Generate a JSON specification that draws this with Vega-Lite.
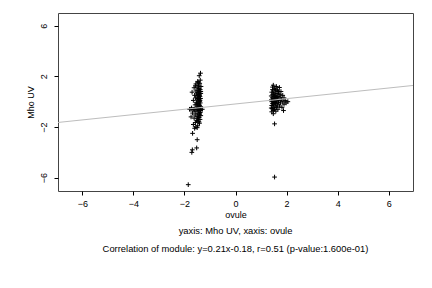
{
  "$schema": "https://vega.github.io/schema/vega-lite/v6.json",
  "autosize": "none",
  "width": 355,
  "height": 178,
  "padding": {"left": 58, "top": 13, "right": 19, "bottom": 97},
  "background": "white",
  "config": {
    "font": "Liberation Sans",
    "view": {"stroke": "#444", "strokeWidth": 1},
    "axis": {"grid": false, "domain": false, "tickColor": "#000", "tickSize": 4, "labelFontSize": 9, "titleFontSize": 9, "titleFontWeight": "normal", "labelColor": "#000", "titleColor": "#000", "labelFont": "Liberation Sans", "titleFont": "Liberation Sans", "labelOverlap": false, "labelFlush": false, "labelSeparation": -30, "labelBound": false}
  },
  "title": {
    "text": ["yaxis: Mho UV, xaxis: ovule", "Correlation of module: y=0.21x-0.18, r=0.51 (p-value:1.600e-01)"],
    "orient": "bottom",
    "anchor": "middle",
    "fontSize": 9.4,
    "fontWeight": "normal",
    "font": "Liberation Sans",
    "color": "#000",
    "lineHeight": 18,
    "offset": 8
  },
  "datasets": {
    "pts": [
      {"x": -1.37, "y": 2.25}, {"x": -1.42, "y": 2.05}, {"x": -1.48, "y": 1.6}, {"x": -1.38, "y": 1.7}, {"x": -1.55, "y": 1.4}, {"x": -1.40, "y": 1.45}, {"x": -1.45, "y": 1.3}, {"x": -1.35, "y": 1.2}, {"x": -1.62, "y": 1.1}, {"x": -1.50, "y": 1.15}, {"x": -1.43, "y": 1.05}, {"x": -1.38, "y": 0.95}, {"x": -1.47, "y": 0.9}, {"x": -1.55, "y": 0.85}, {"x": -1.40, "y": 0.8}, {"x": -1.70, "y": 0.75}, {"x": -1.45, "y": 0.7}, {"x": -1.36, "y": 0.65}, {"x": -1.52, "y": 0.6}, {"x": -1.42, "y": 0.55}, {"x": -1.60, "y": 0.5}, {"x": -1.48, "y": 0.45}, {"x": -1.39, "y": 0.4}, {"x": -1.44, "y": 0.35}, {"x": -1.56, "y": 0.3}, {"x": -1.37, "y": 0.25}, {"x": -1.50, "y": 0.2}, {"x": -1.42, "y": 0.15}, {"x": -1.65, "y": 0.1}, {"x": -1.46, "y": 0.05}, {"x": -1.40, "y": 0.0}, {"x": -1.53, "y": -0.05}, {"x": -1.38, "y": -0.1}, {"x": -1.48, "y": -0.15}, {"x": -1.43, "y": -0.2}, {"x": -1.58, "y": -0.25}, {"x": -1.41, "y": -0.3}, {"x": -1.50, "y": -0.35}, {"x": -1.36, "y": -0.4}, {"x": -1.46, "y": -0.45}, {"x": -1.72, "y": -0.5},
      {"x": -1.80, "y": -0.6}, {"x": -1.75, "y": -0.6}, {"x": -1.70, "y": -0.6}, {"x": -1.65, "y": -0.6}, {"x": -1.60, "y": -0.6}, {"x": -1.55, "y": -0.6}, {"x": -1.50, "y": -0.6}, {"x": -1.45, "y": -0.6}, {"x": -1.40, "y": -0.6}, {"x": -1.35, "y": -0.6}, {"x": -1.30, "y": -0.6}, {"x": -1.62, "y": -0.62}, {"x": -1.48, "y": -0.58},
      {"x": -1.44, "y": -0.7}, {"x": -1.55, "y": -0.8}, {"x": -1.38, "y": -0.85}, {"x": -1.68, "y": -0.9}, {"x": -1.47, "y": -0.95}, {"x": -1.41, "y": -1.0}, {"x": -1.58, "y": -1.05}, {"x": -1.36, "y": -1.1}, {"x": -1.50, "y": -1.15}, {"x": -1.74, "y": -1.2}, {"x": -1.43, "y": -1.25}, {"x": -1.62, "y": -1.3}, {"x": -1.39, "y": -1.4}, {"x": -1.52, "y": -1.5}, {"x": -1.46, "y": -1.55}, {"x": -1.57, "y": -1.65}, {"x": -1.41, "y": -1.7}, {"x": -1.65, "y": -1.8}, {"x": -1.48, "y": -1.9}, {"x": -1.55, "y": -2.0}, {"x": -1.60, "y": -2.1}, {"x": -1.50, "y": -2.05}, {"x": -1.68, "y": -2.5}, {"x": -1.50, "y": -3.0}, {"x": -1.52, "y": -3.65}, {"x": -1.69, "y": -3.8}, {"x": -1.71, "y": -4.0}, {"x": -1.85, "y": -6.55},
      {"x": -1.44, "y": 1.0}, {"x": -1.36, "y": 0.8}, {"x": -1.50, "y": 0.7}, {"x": -1.41, "y": 0.5}, {"x": -1.46, "y": 0.25}, {"x": -1.39, "y": 0.1}, {"x": -1.52, "y": -0.2}, {"x": -1.44, "y": -0.4}, {"x": -1.40, "y": -0.9}, {"x": -1.45, "y": -1.2}, {"x": -1.49, "y": -1.35}, {"x": -1.43, "y": -1.6}, {"x": -1.37, "y": -0.7}, {"x": -1.57, "y": 1.25}, {"x": -1.46, "y": 1.5},
      {"x": 1.48, "y": 1.3}, {"x": 1.72, "y": 1.12}, {"x": 1.60, "y": 1.2}, {"x": 1.52, "y": 1.05}, {"x": 1.45, "y": 0.95}, {"x": 1.65, "y": 0.9}, {"x": 1.55, "y": 0.85}, {"x": 1.78, "y": 0.8}, {"x": 1.42, "y": 0.75}, {"x": 1.50, "y": 0.7}, {"x": 1.62, "y": 0.65}, {"x": 1.70, "y": 0.6}, {"x": 1.46, "y": 0.55}, {"x": 1.56, "y": 0.5}, {"x": 1.85, "y": 0.5}, {"x": 1.40, "y": 0.45}, {"x": 1.52, "y": 0.4}, {"x": 1.66, "y": 0.4}, {"x": 1.75, "y": 0.35}, {"x": 1.44, "y": 0.3}, {"x": 1.58, "y": 0.3}, {"x": 1.90, "y": 0.3}, {"x": 1.48, "y": 0.25}, {"x": 1.63, "y": 0.2}, {"x": 1.80, "y": 0.2}, {"x": 1.41, "y": 0.15}, {"x": 1.54, "y": 0.15}, {"x": 1.70, "y": 0.1}, {"x": 1.95, "y": 0.1}, {"x": 1.46, "y": 0.05}, {"x": 1.60, "y": 0.05}, {"x": 2.05, "y": 0.0}, {"x": 1.85, "y": 0.0}, {"x": 1.42, "y": 0.0}, {"x": 1.52, "y": -0.05}, {"x": 1.68, "y": -0.05}, {"x": 1.76, "y": -0.1}, {"x": 1.98, "y": -0.1}, {"x": 1.45, "y": -0.15}, {"x": 1.58, "y": -0.15}, {"x": 1.90, "y": -0.2}, {"x": 1.50, "y": -0.25}, {"x": 1.64, "y": -0.25}, {"x": 1.42, "y": -0.3}, {"x": 1.55, "y": -0.35}, {"x": 1.72, "y": -0.35}, {"x": 1.47, "y": -0.45}, {"x": 1.60, "y": -0.45}, {"x": 1.82, "y": -0.45}, {"x": 1.44, "y": -0.55}, {"x": 1.53, "y": -0.6}, {"x": 1.66, "y": -0.6}, {"x": 1.48, "y": -0.7}, {"x": 1.88, "y": -0.7}, {"x": 1.58, "y": -0.75}, {"x": 1.42, "y": -0.8}, {"x": 1.48, "y": -0.95}, {"x": 1.53, "y": -1.75}, {"x": 1.53, "y": -5.95},
      {"x": 1.50, "y": 0.6}, {"x": 1.57, "y": 0.95}, {"x": 1.45, "y": 1.15}, {"x": 1.62, "y": 0.35}, {"x": 1.50, "y": -0.1}, {"x": 1.74, "y": 0.55}, {"x": 1.40, "y": -0.5}, {"x": 1.56, "y": 0.0}, {"x": 1.68, "y": 0.8}, {"x": 1.52, "y": 0.2}
    ],
    "fit": [
      {"x": -7.2, "y": -1.692},
      {"x": 7.2, "y": 1.332}
    ]
  },
  "layer": [
    {
      "data": {"name": "pts"},
      "mark": {"type": "point", "shape": "M-1,0H1M0,-1V1", "size": 22, "filled": false, "stroke": "#000", "strokeWidth": 1, "opacity": 1},
      "encoding": {
        "x": {"field": "x", "type": "quantitative", "scale": {"domain": [-6.95, 6.95], "nice": false, "zero": false},
              "axis": {"values": [-6, -4, -2, 0, 2, 4, 6], "title": "ovule", "titlePadding": 2, "labelPadding": 4, "labelOverlap": false}},
        "y": {"field": "y", "type": "quantitative", "scale": {"domain": [-7.05, 7.0], "nice": false, "zero": false},
              "axis": {"values": [-6, -4, -2, 0, 2, 4, 6], "title": "Mho UV", "labelAngle": 270, "labelAlign": "center", "labelBaseline": "bottom", "labelPadding": 6, "titlePadding": 4, "labelOverlap": false, "labelSeparation": -30, "labelBound": false}}
      }
    },
    {
      "data": {"name": "fit"},
      "mark": {"type": "line", "color": "#bdbdbd", "strokeWidth": 1, "clip": true},
      "encoding": {
        "x": {"field": "x", "type": "quantitative"},
        "y": {"field": "y", "type": "quantitative"}
      }
    }
  ]
}
